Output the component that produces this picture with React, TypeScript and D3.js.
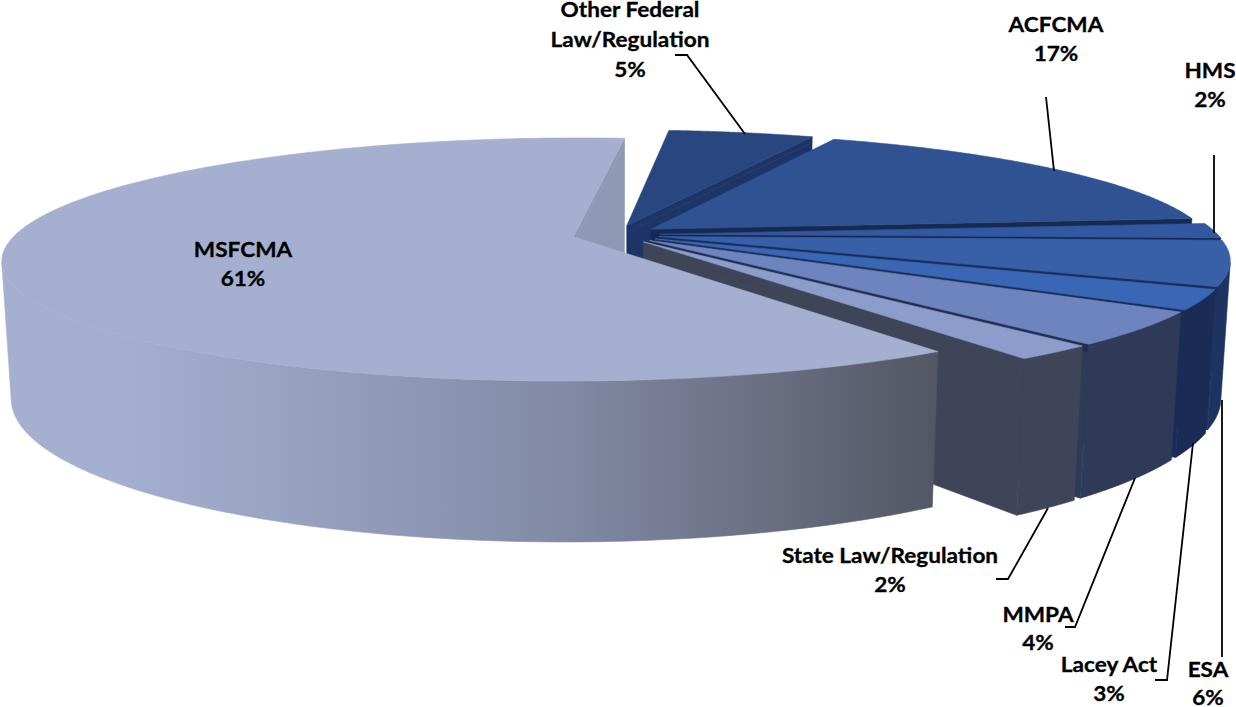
import * as d3 from 'd3';
import { type FC, useEffect, useRef } from 'react';

const categories = [
  'MSFCMA',
  'Other Federal Law/Regulation',
  'ACFCMA',
  'HMS',
  'ESA',
  'Lacey Act',
  'MMPA',
  'State Law/Regulation',
];
// slice sizes, the printed labels are rounded
const shares = [61, 5, 17, 2, 6, 2.6, 4.4, 2];

const topColors = ['#A5B0D1', '#29467F', '#2E5292', '#3158A0', '#3760A9', '#3A67B5', '#6E84BE', '#8C9DCB'];
const sideColors = ['url(#msfcmaSide)', '#1A2F5F', '#1A2F5F', '#1C3264', '#1E3360', '#1A2C55', '#2E3A57', '#3F4558'];
// radial walls: the upper band shows as the dark line between slices, the rest matches the rim
const wallLineColors = ['#8E99B6', '#1C3468', '#17294F', '#17294F', '#1B2E58', '#1B2E58', '#222F50', '#3F4558'];
const wallColors = ['#8E99B6', '#1C3468', '#17294F', '#17294F', '#1E3360', '#1A2C55', '#2E3A57', '#3F4558'];

// label lines, centred on x, with the baseline of the first line and the line gap
const labelLines = [
  { lines: ['MSFCMA', '61%'], x: 243, y: 257, gap: 29 },
  { lines: ['Other Federal', 'Law/Regulation', '5%'], x: 630, y: 17, gap: 30 },
  { lines: ['ACFCMA', '17%'], x: 1056, y: 32, gap: 29 },
  { lines: ['HMS', '2%'], x: 1210, y: 78, gap: 29 },
  { lines: ['ESA', '6%'], x: 1208, y: 677, gap: 28 },
  { lines: ['Lacey Act', '3%'], x: 1109, y: 672, gap: 29 },
  { lines: ['MMPA', '4%'], x: 1038, y: 622, gap: 28 },
  { lines: ['State Law/Regulation', '2%'], x: 890, y: 563, gap: 29 },
];

const leaders: [number, number][][] = [
  [[675, 55], [687, 55], [745, 134]],
  [[1046, 97], [1054, 171]],
  [[1214, 155], [1214, 233]],
  [[1222, 400], [1222, 657]],
  [[1193, 443], [1167, 680], [1155, 680]],
  [[1135, 478], [1075, 627], [1065, 627]],
  [[1048, 508], [1008, 579], [996, 579]],
];

const WIDTH = 1236;
const HEIGHT = 707;
const START = (145.8 * Math.PI) / 180;

// ground plane to screen: u right, v toward the viewer, h depth below the top face
const project = (u: number, v: number, h: number): [number, number] => {
  const w = 1 - 0.186 * v + 0.015 * h;
  return [616 + (558 * u) / w, 234.5 + (116.5 * v + 135 * h) / w];
};

const App: FC = () => {
  const svgRef = useRef<SVGSVGElement>(null);

  useEffect(() => {
    if (!svgRef.current) {
      return;
    }

    const svg = d3.select(svgRef.current);
    svg.selectAll('*').remove();

    const defs = svg.append('defs');
    const grad = defs
      .append('linearGradient')
      .attr('id', 'msfcmaSide')
      .attr('gradientUnits', 'userSpaceOnUse')
      .attr('x1', 0)
      .attr('x2', 935)
      .attr('y1', 0)
      .attr('y2', 0);
    [
      [0.12, '#A5B0D1'],
      [0.35, '#959FBD'],
      [0.6, '#828AA5'],
      [0.8, '#6C7186'],
      [1, '#525763'],
    ].forEach(([o, c]) => grad.append('stop').attr('offset', o).attr('stop-color', c));

    const pie = d3
      .pie<number>()
      .sort(null)
      .startAngle(START)
      .endAngle(START + 2 * Math.PI);
    const arcs = pie(shares);

    const path = d3.line();
    const explode = 0.0785;
    const lineBand = 0.05;

    // back slices first, the big slice goes over all of them
    const order = [1, 2, 3, 4, 5, 6, 7, 0];

    order.forEach((i) => {
      const a = arcs[i];
      const mid = (a.startAngle + a.endAngle) / 2;
      const ou = explode * Math.sin(mid);
      const ov = -explode * Math.cos(mid);
      const at = (t: number, r: number, h: number) =>
        project(ou + r * Math.sin(t), ov - r * Math.cos(t), h);

      const stepCount = 120;
      const steps = d3.range(0, stepCount + 1).map((s) => a.startAngle + ((a.endAngle - a.startAngle) * s) / stepCount);
      const g = svg.append('g').attr('class', 'slice').attr('data-name', categories[i]);

      // thin stroke in the same colour closes the seams between faces
      const face = (pts: [number, number][], color: string) =>
        g
          .append('path')
          .attr('d', `${path(pts)}Z`)
          .attr('fill', color)
          .attr('stroke', color)
          .attr('stroke-width', 0.6)
          .attr('stroke-linejoin', 'round');

      const wallAt = (t: number, h0: number, h1: number) =>
        [at(0, 0, h0), at(t, 1, h0), at(t, 1, h1), at(0, 0, h1)] as [number, number][];
      const drawWall = (t: number) => {
        face(wallAt(t, lineBand, 1), wallColors[i]);
        face(wallAt(t, 0, lineBand), wallLineColors[i]);
      };

      if (d3.polygonArea(wallAt(a.startAngle, 0, 1)) > 0) {
        drawWall(a.startAngle);
      }
      if (d3.polygonArea(wallAt(a.endAngle, 0, 1)) < 0) {
        drawWall(a.endAngle);
      }

      // outer rim, only the part that faces the viewer
      const facing = steps.filter((t, s) => {
        const next = steps[Math.min(s + 1, stepCount)];
        const prev = steps[Math.max(s - 1, 0)];
        return (
          d3.polygonArea([at(prev, 1, 0), at(next, 1, 0), at(next, 1, 1), at(prev, 1, 1)]) > 0
        );
      });
      if (facing.length > 1) {
        face(
          [...facing.map((t) => at(t, 1, 0)), ...facing.slice().reverse().map((t) => at(t, 1, 1))],
          sideColors[i],
        );
      }

      // top face
      face([at(0, 0, 0), ...steps.map((t) => at(t, 1, 0))], topColors[i]);
    });

    svg
      .append('g')
      .selectAll('path')
      .data(leaders)
      .join('path')
      .attr('d', (d) => path(d))
      .attr('fill', 'none')
      .attr('stroke', '#000')
      .attr('stroke-width', 1.8);

    const labels = svg
      .append('g')
      .attr('font-family', 'Lato, sans-serif')
      .attr('font-weight', 700)
      .attr('font-size', 20)
      .attr('fill', '#000')
      .attr('stroke', '#000')
      .attr('stroke-width', 0.3)
      .attr('text-anchor', 'middle');

    // the reference text runs wider than Lato, so stretch it a little
    labelLines.forEach((l) => {
      l.lines.forEach((t, n) => {
        labels
          .append('text')
          .attr('transform', `translate(${l.x},${l.y + n * l.gap}) scale(1.13,1)`)
          .text(t);
      });
    });
  }, []);

  return (
    <svg
      ref={svgRef}
      width={WIDTH}
      height={HEIGHT}
      viewBox={`0 0 ${WIDTH} ${HEIGHT}`}
      style={{ position: 'absolute', left: 0, top: 0, background: '#fff' }}
    />
  );
};

export default App;
